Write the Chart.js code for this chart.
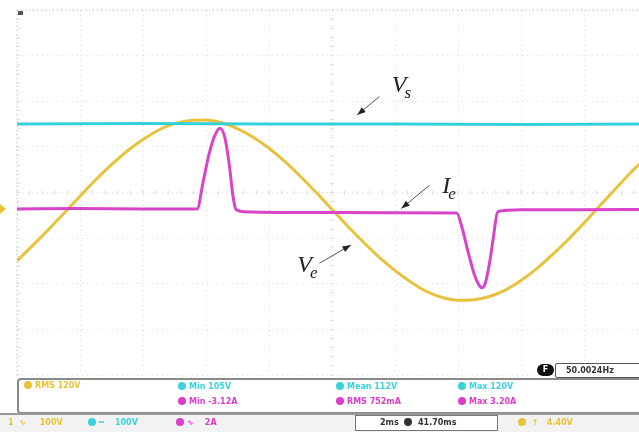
<!DOCTYPE html>
<html>
<head>
<meta charset="utf-8">
<script src="https://cdn.jsdelivr.net/npm/chart.js@4.4.1/dist/chart.umd.min.js"></script>
<style>
  html, body { margin: 0; padding: 0; width: 639px; height: 432px; overflow: hidden; background: #fff; font-family: "DejaVu Sans", sans-serif; }
  #wrap { position: absolute; left: 0; top: 0; width: 647px; height: 432px; }
  .panel { position: absolute; left: 17px; top: 378px; width: 640px; height: 32px; border: 2px solid #8a8a8a; border-radius: 4px; background: #fff; }
  .status { position: absolute; left: 0; top: 413px; width: 639px; height: 19px; background: #f2f2f2; border-top: 2px solid #9a9a9a; }
  .t { position: absolute; font-size: 8px; font-weight: bold; white-space: nowrap; }
  .dot { display: inline-block; width: 8px; height: 8px; border-radius: 50%; margin-right: 3px; vertical-align: -1px; }
  .y { color: #e6c43a; } .c { color: #3cd2dc; } .m { color: #d83ec8; }
  .freq { position: absolute; left: 555px; top: 363px; width: 90px; height: 13px; border: 1px solid #555; border-radius: 2px; background: #fff; font-size: 8px; font-weight: bold; color: #333; line-height: 13px; padding-left: 10px; }
  .fpill { position: absolute; left: 537px; top: 364px; width: 17px; height: 12px; border-radius: 6px; background: #111; color: #fff; font-size: 8px; font-weight: bold; text-align: center; line-height: 12px; }
  .tbox { position: absolute; left: 355px; top: 415px; width: 141px; height: 14px; border: 1px solid #777; background: #fff; }
</style>
</head>
<body>
<div id="wrap"><canvas id="scope" width="647" height="432"></canvas></div>

<div class="panel"></div>
<div class="t y" style="left:24px;top:381px;"><span class="dot" style="background:#e6c43a"></span>RMS 120V</div>
<div class="t c" style="left:178px;top:382px;"><span class="dot" style="background:#3cd2dc"></span>Min 105V</div>
<div class="t m" style="left:178px;top:397px;"><span class="dot" style="background:#d83ec8"></span>Min -3.12A</div>
<div class="t c" style="left:336px;top:382px;"><span class="dot" style="background:#3cd2dc"></span>Mean 112V</div>
<div class="t m" style="left:336px;top:397px;"><span class="dot" style="background:#d83ec8"></span>RMS 752mA</div>
<div class="t c" style="left:458px;top:382px;"><span class="dot" style="background:#3cd2dc"></span>Max 120V</div>
<div class="t m" style="left:458px;top:397px;"><span class="dot" style="background:#d83ec8"></span>Max 3.20A</div>

<div class="fpill">F</div>
<div class="freq">50.0024Hz</div>

<div class="status"></div>
<div class="tbox"></div>
<div class="t y" style="left:8px;top:418px;">1 &nbsp;∿ &nbsp;&nbsp;&nbsp;&nbsp;100V</div>
<div class="t c" style="left:88px;top:418px;"><span class="dot" style="background:#3cd2dc"></span>═ &nbsp;&nbsp;&nbsp;100V</div>
<div class="t m" style="left:176px;top:418px;"><span class="dot" style="background:#d83ec8"></span>∿ &nbsp;&nbsp;&nbsp;2A</div>
<div class="t" style="left:380px;top:418px;color:#333;">2ms &nbsp;<span class="dot" style="background:#333"></span> 41.70ms</div>
<div class="t y" style="left:518px;top:418px;"><span class="dot" style="background:#e6c43a"></span>&nbsp;↑ &nbsp;&nbsp;4.40V</div>

<script>
// time axis in divisions (2 ms/div), values in vertical divisions
const tVs = [0, 2, 4, 6, 8, 10];
const vVs = [1.50, 1.51, 1.50, 1.50, 1.49, 1.50];

const tVe = [0, 0.25, 0.5, 0.75, 1.0, 1.25, 1.5, 1.75, 2.0, 2.25, 2.5, 2.75, 3.0, 3.25, 3.5, 3.75, 4.0, 4.25, 4.5, 4.75, 5.0, 5.25, 5.5, 5.75, 6.0, 6.25, 6.5, 6.75, 7.0, 7.25, 7.5, 7.75, 8.0, 8.25, 8.5, 8.75, 9.0, 9.25, 9.5, 9.75, 10];
const vVe = [-1.50, -1.16, -0.81, -0.45, -0.08, 0.28, 0.61, 0.91, 1.16, 1.37, 1.51, 1.58, 1.59, 1.53, 1.40, 1.21, 0.97, 0.68, 0.35, 0.0, -0.37, -0.74, -1.09, -1.42, -1.71, -1.96, -2.17, -2.30, -2.36, -2.35, -2.28, -2.14, -1.93, -1.67, -1.36, -1.03, -0.67, -0.29, 0.08, 0.45, 0.78];

const tIe = [0, 1, 2, 2.86, 2.95, 3.05, 3.14, 3.22, 3.3, 3.37, 3.43, 3.48, 3.6, 5, 6.98, 7.06, 7.16, 7.26, 7.33, 7.38, 7.43, 7.5, 7.56, 7.63, 8, 9, 10];
const vIe = [-0.36, -0.35, -0.36, -0.36, 0.2, 0.85, 1.25, 1.41, 1.2, 0.6, -0.1, -0.38, -0.42, -0.44, -0.45, -0.75, -1.3, -1.8, -2.02, -2.09, -2.0, -1.55, -1.0, -0.42, -0.38, -0.38, -0.37];

const labels = [
  { name: 'V', sub: 's', x: 5.95, y: 2.2, ax0: 5.75, ay0: 2.1, ax1: 5.4, ay1: 1.7 },
  { name: 'I', sub: 'e', x: 6.75, y: 0.0, ax0: 6.55, ay0: 0.16, ax1: 6.1, ay1: -0.35 },
  { name: 'V', sub: 'e', x: 4.45, y: -1.75, ax0: 4.8, ay0: -1.55, ax1: 5.3, ay1: -1.15 }
];

const pts = (ts, vs) => ts.map((t, i) => ({ x: t, y: vs[i] }));

const scopeDecor = {
  id: 'scopeDecor',
  beforeDatasetsDraw(chart) {
    const { ctx, chartArea: a, scales: { x, y } } = chart;
    ctx.save();
    ctx.strokeStyle = '#b8b8b8';
    ctx.lineWidth = 1;
    ctx.setLineDash([1, 3]);
    ctx.beginPath();
    ctx.moveTo(a.left, a.top); ctx.lineTo(a.right, a.top);
    ctx.moveTo(a.left, a.top); ctx.lineTo(a.left, a.bottom);
    ctx.stroke();
    ctx.setLineDash([]);
    // minor ticks on left edge and center cross
    const cx = x.getPixelForValue(5), cy = y.getPixelForValue(0);
    ctx.strokeStyle = '#dcdcdc';
    ctx.beginPath();
    for (let v = -4; v <= 4; v += 0.2) {
      const py = y.getPixelForValue(v);
      ctx.moveTo(a.left, py); ctx.lineTo(a.left + 3, py);
      ctx.moveTo(cx - 2, py); ctx.lineTo(cx + 2, py);
    }
    for (let t = 0; t <= 10; t += 0.2) {
      const px = x.getPixelForValue(t);
      ctx.moveTo(px, cy - 2); ctx.lineTo(px, cy + 2);
    }
    ctx.stroke();
    // trigger marker top-left
    ctx.fillStyle = '#555';
    ctx.fillRect(a.left + 1, a.top + 1, 5, 4);
    // ground marker
    const gy = y.getPixelForValue(vIe[0]);
    ctx.fillStyle = '#e6c43a';
    ctx.beginPath(); ctx.moveTo(0, gy - 5); ctx.lineTo(6, gy); ctx.lineTo(0, gy + 5); ctx.fill();
    ctx.restore();
  },
  afterDatasetsDraw(chart) {
    const { ctx, scales: { x, y } } = chart;
    ctx.save();
    ctx.fillStyle = '#222';
    ctx.strokeStyle = '#555';
    labels.forEach(l => {
      const px = x.getPixelForValue(l.x), py = y.getPixelForValue(l.y);
      ctx.font = 'italic 24px "Liberation Serif", serif';
      ctx.textBaseline = 'alphabetic';
      ctx.fillText(l.name, px, py);
      const w = ctx.measureText(l.name).width;
      ctx.font = 'italic 17px "Liberation Serif", serif';
      ctx.fillText(l.sub, px + w - 2, py + 6);
      const x0 = x.getPixelForValue(l.ax0), y0 = y.getPixelForValue(l.ay0);
      const x1 = x.getPixelForValue(l.ax1), y1 = y.getPixelForValue(l.ay1);
      ctx.lineWidth = 1;
      ctx.beginPath(); ctx.moveTo(x0, y0); ctx.lineTo(x1, y1); ctx.stroke();
      const ang = Math.atan2(y1 - y0, x1 - x0);
      ctx.beginPath();
      ctx.moveTo(x1, y1);
      ctx.lineTo(x1 - 9 * Math.cos(ang - 0.35), y1 - 9 * Math.sin(ang - 0.35));
      ctx.lineTo(x1 - 9 * Math.cos(ang + 0.35), y1 - 9 * Math.sin(ang + 0.35));
      ctx.closePath();
      ctx.fill();
    });
    ctx.restore();
  }
};

new Chart(document.getElementById('scope'), {
  type: 'line',
  data: {
    datasets: [
      { label: 'Vs', data: pts(tVs, vVs), borderColor: '#35d0d8', borderWidth: 3, pointRadius: 0, tension: 0 },
      { label: 'Ie', data: pts(tIe, vIe), borderColor: '#d844c8', borderWidth: 3, pointRadius: 0, cubicInterpolationMode: 'monotone' },
      { label: 'Ve', data: pts(tVe, vVe), borderColor: '#e8c23c', borderWidth: 3, pointRadius: 0, cubicInterpolationMode: 'monotone' }
    ]
  },
  options: {
    responsive: false,
    animation: false,
    layout: { padding: { left: 17, top: 10, right: 0, bottom: 57 } },
    plugins: { legend: { display: false }, tooltip: { enabled: false } },
    scales: {
      x: {
        type: 'linear', min: 0, max: 10,
        ticks: { display: false, stepSize: 1 },
        grid: { color: 'rgba(190,190,190,0.5)', drawTicks: false },
        border: { display: false, dash: [1, 4] }
      },
      y: {
        type: 'linear', min: -4, max: 4,
        ticks: { display: false, stepSize: 1 },
        grid: { color: 'rgba(190,190,190,0.5)', drawTicks: false },
        border: { display: false, dash: [1, 4] }
      }
    }
  },
  plugins: [scopeDecor]
});
</script>
</body>
</html>
